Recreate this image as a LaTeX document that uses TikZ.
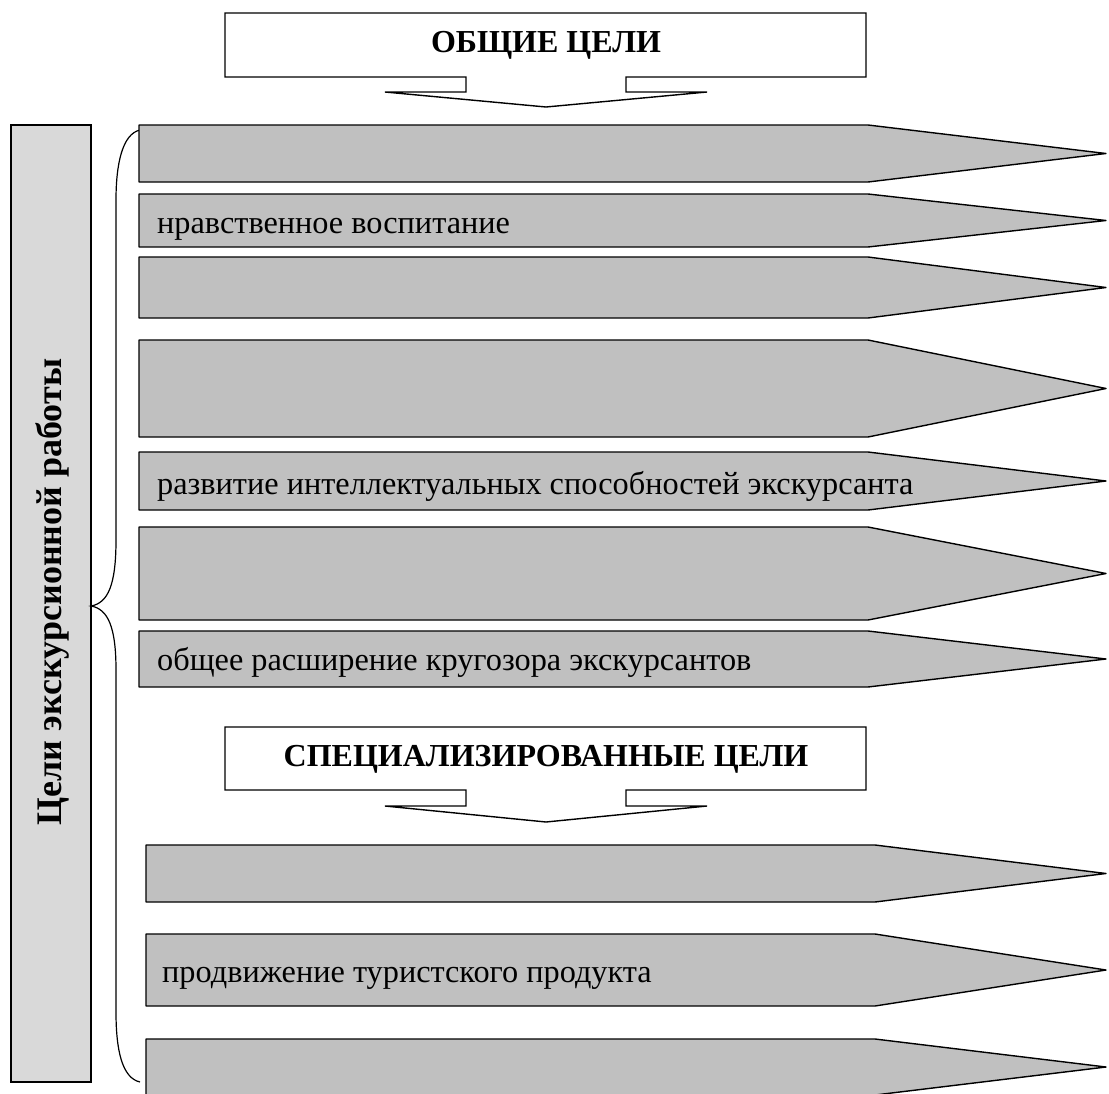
\documentclass[tikz,border=0pt]{standalone}
\usepackage{fontspec}
\setmainfont{Liberation Serif}
\definecolor{barfill}{HTML}{C0C0C0}
\definecolor{sidefill}{HTML}{D9D9D9}
\newcommand\gbar[4]{%
  \draw[barshape] (#3,#1) -- (#4,#1) -- (1106,{(#1+#2)/2}) -- (#4,#2) -- (#3,#2) -- cycle;}
\newcommand\callout[4]{% top bottom shelfy tipy
  \draw[calloutshape] (225,#1) -- (866,#1) -- (866,#2) -- (626,#2) -- (626,#3) -- (707,#3)
    -- (546,#4) -- (385,#3) -- (466,#3) -- (466,#2) -- (225,#2) -- cycle;}
\begin{document}
\begin{tikzpicture}[x=1pt,y=-1pt]
\tikzset{
  barshape/.style={draw=black, fill=barfill, line width=1.4pt, line join=round},
  calloutshape/.style={draw=black, fill=white, line width=1.4pt, line join=miter},
  lbl/.style={anchor=base west, inner sep=0pt, font=\fontsize{32.3}{38}\selectfont},
  ttl/.style={inner sep=0pt, font=\fontsize{32}{38}\selectfont\bfseries},
  sidettl/.style={inner sep=0pt, font=\fontsize{36}{42}\selectfont\bfseries},
  sidebox/.style={draw=black, fill=sidefill, line width=1.4pt},
  bracestyle/.style={draw=black, line width=1.2pt}
}
\path[use as bounding box] (0,0) rectangle (1109,1093);
\clip (0,0) rectangle (1109,1093);

% side box
\draw[sidebox] (11,125) rectangle (91,1082);
\node[sidettl, rotate=90] (side) at (52,592) {Цели экскурсионной работы};

% brace
\draw[bracestyle] (140,130) .. controls (122,134) and (116,165) .. (116,200)
  -- (116,540) .. controls (116,585) and (108,603) .. (91,606)
  .. controls (108,609) and (116,627) .. (116,670)
  -- (116,1012) .. controls (116,1050) and (122,1078) .. (140,1082);

% top callout
\callout{13}{77}{92}{107}
\node[ttl] (general) at (546,45) {ОБЩИЕ ЦЕЛИ};

% general bars
\gbar{125}{182}{139}{868}
\gbar{194}{247}{139}{868}
\node[lbl] (t2) at (157,233) {нравственное воспитание};
\gbar{257}{318}{139}{868}
\gbar{340}{437}{139}{868}
\gbar{452}{510}{139}{868}
\node[lbl] (t5) at (157,494) {развитие интеллектуальных способностей экскурсанта};
\gbar{527}{620}{139}{868}
\gbar{631}{687}{139}{868}
\node[lbl] (t7) at (157,670) {общее расширение кругозора экскурсантов};

% special callout
\callout{727}{790}{806}{822}
\node[ttl] (special) at (546,759) {СПЕЦИАЛИЗИРОВАННЫЕ ЦЕЛИ};

% special bars
\gbar{845}{902}{146}{875}
\gbar{934}{1006}{146}{875}
\node[lbl] (t9) at (162,982) {продвижение туристского продукта};
\gbar{1039}{1095}{146}{875}
\end{tikzpicture}
\end{document}
